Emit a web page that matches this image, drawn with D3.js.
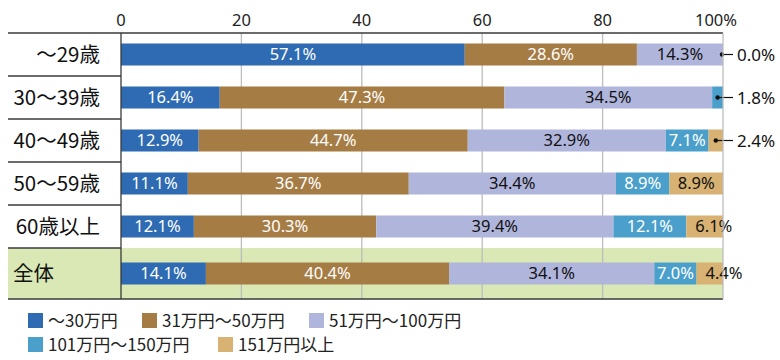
<!DOCTYPE html>
<html><head><meta charset="utf-8">
<script src="https://cdn.jsdelivr.net/npm/d3@7"></script>
<style>body{margin:0;background:#fff}svg{display:block}</style>
</head><body>
<script>
const categories = ["～29歳","30～39歳","40～49歳","50～59歳","60歳以上","全体"];
const seriesNames = ["～30万円","31万円～50万円","51万円～100万円","101万円～150万円","151万円以上"];
const s1 = [57.1,16.4,12.9,11.1,12.1,14.1];
const s2 = [28.6,47.3,44.7,36.7,30.3,40.4];
const s3 = [14.3,34.5,32.9,34.4,39.4,34.1];
const s4 = [0.0,1.8,7.1,8.9,12.1,7.0];
const s5 = [null,null,2.4,8.9,6.1,4.4];
const ticks = [0,20,40,60,80,100];
const tickLabels = ["0","20","40","60","80","100%"];
const colors = ["#2E6BB3","#A67C45","#B0B5DC","#4A9FCB","#D7B272"];
const textColors = ["#fff","#fff","#111","#fff","#111"];

const W=780,H=360;
const svg=d3.select("body").append("svg").attr("width",W).attr("height",H);
const fontJP='"Noto Sans CJK JP","Noto Sans",sans-serif';
const fontNum='"Noto Sans","Open Sans",sans-serif';
const x=d3.scaleLinear().domain([0,100]).range([121,723]);
const leftX=8, topY=33;
const rowTop=i=> i<5 ? topY+i*43 : topY+5*43;
const rowH=i=> i<5 ? 43 : 51;
const bottomY=rowTop(5)+rowH(5);
const barH=22;

// green band for total
svg.append("rect").attr("x",leftX).attr("y",rowTop(5)).attr("width",x(100)-leftX).attr("height",rowH(5)).attr("fill","#D9E8B4");

// gridlines
svg.selectAll(".grid").data(ticks.slice(1,-1)).enter().append("line")
 .attr("x1",d=>x(d)).attr("x2",d=>x(d)).attr("y1",topY).attr("y2",bottomY)
 .attr("stroke","#bdbdbd").attr("stroke-width",1.3);

// tick labels
svg.selectAll(".tl").data(ticks).enter().append("text")
 .attr("x",(d,i)=> i===ticks.length-1 ? x(d)+14 : x(d)).attr("y",26)
 .attr("text-anchor",(d,i)=> i===ticks.length-1 ? "end":"middle")
 .attr("font-family",fontNum).attr("font-size",16.5).attr("fill","#222")
 .text((d,i)=>tickLabels[i]);

// stacked data
const series=[s1,s2,s3,s4,s5];
const rows=categories.map((c,i)=>{let acc=0;return series.map((s,k)=>{const v=s[i];const o={k,i,v,x0:acc,x1:acc+(v||0)};acc+=(v||0);return o;});});

rows.forEach((segs,i)=>{
  const cy=rowTop(i)+rowH(i)/2;
  const g=svg.append("g");
  g.selectAll("rect").data(segs.filter(d=>d.v>0)).enter().append("rect")
   .attr("x",d=>x(d.x0)).attr("width",d=>Math.max(0,Math.min(x(d.x1),x(100))-x(d.x0)))
   .attr("y",cy-barH/2).attr("height",barH).attr("fill",d=>colors[d.k]);
  segs.forEach(d=>{
    if(d.v===null) return;
    const w=x(d.x1)-x(d.x0);
    const label=d.v.toFixed(1)+"%";
    if(w<20){
      const px=Math.min(x(d.x0)+w/2+(w===0?1:0), x(100)-1);
      g.append("circle").attr("cx",px).attr("cy",cy).attr("r",2.2).attr("fill","#111");
      g.append("line").attr("x1",px).attr("x2",733).attr("y1",cy).attr("y2",cy).attr("stroke","#111").attr("stroke-width",1.2);
      g.append("text").attr("x",737).attr("y",cy).attr("dy","0.36em")
       .attr("font-family",fontNum).attr("font-size",17).attr("fill","#111").text(label);
      return;
    }
    const small = w<40;
    g.append("text")
     .attr("x", small ? x(d.x0)+9 : x(d.x0)+w/2)
     .attr("text-anchor", small ? "start":"middle")
     .attr("y",cy).attr("dy","0.36em")
     .attr("font-family",fontNum).attr("font-size",16.5)
     .attr("fill",textColors[d.k]).text(label);
  });
});

// frame lines
const frame=svg.append("g").attr("stroke","#3a3a3a").attr("stroke-width",1.3);
frame.append("line").attr("x1",leftX).attr("x2",x(100)).attr("y1",topY).attr("y2",topY);
frame.append("line").attr("x1",leftX).attr("x2",x(100)).attr("y1",bottomY).attr("y2",bottomY);
frame.append("line").attr("x1",x(0)).attr("x2",x(0)).attr("y1",topY).attr("y2",bottomY);
for(let i=1;i<6;i++) frame.append("line").attr("x1",leftX).attr("x2",x(0)).attr("y1",rowTop(i)).attr("y2",rowTop(i));
svg.append("line").attr("x1",x(100)).attr("x2",x(100)).attr("y1",topY).attr("y2",bottomY).attr("stroke","#bdbdbd").attr("stroke-width",1.3);

// category labels
svg.selectAll(".cat").data(categories).enter().append("text")
 .attr("x",(d,i)=> i<5 ? 100 : 13).attr("text-anchor",(d,i)=> i<5?"end":"start")
 .attr("y",(d,i)=>rowTop(i)+rowH(i)/2).attr("dy","0.36em")
 .attr("font-family",fontJP).attr("font-size",20.5).attr("fill","#111").text(d=>d);

// legend
const legPos=[[28,313],[142,313],[309,313],[28,337],[218,337]];
const lg=svg.selectAll(".leg").data(seriesNames).enter().append("g")
 .attr("transform",(d,i)=>`translate(${legPos[i][0]},${legPos[i][1]})`);
lg.append("rect").attr("width",15).attr("height",15).attr("fill",(d,i)=>colors[i]);
lg.append("text").attr("x",20).attr("y",7.5).attr("dy","0.36em")
 .attr("font-family",fontJP).attr("font-size",17).attr("fill","#222").text(d=>d);
</script>
</body></html>
